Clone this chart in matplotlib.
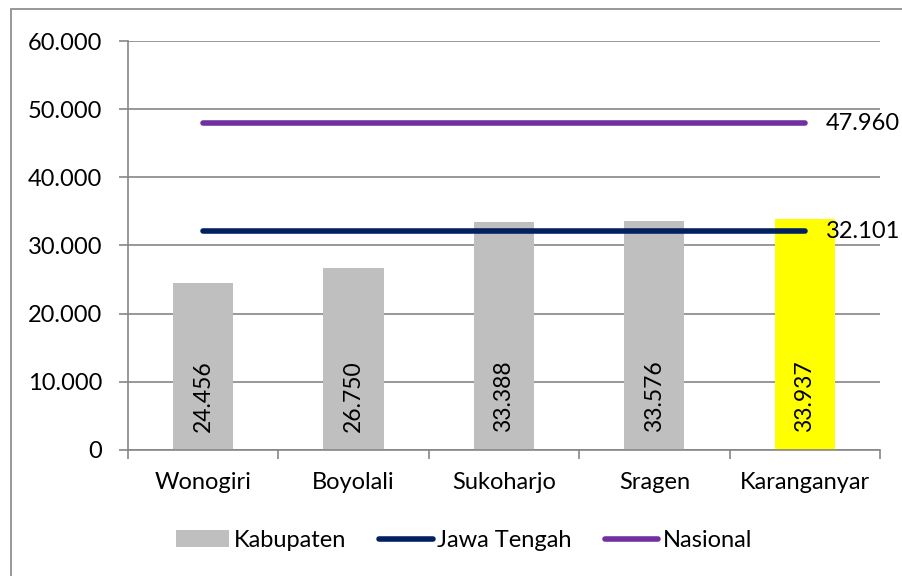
import matplotlib
matplotlib.use("Agg")
import matplotlib.pyplot as plt
from matplotlib.patches import Rectangle, Patch
from matplotlib.lines import Line2D
import numpy as np

plt.rcParams['font.family'] = ['Lato', 'DejaVu Sans']

categories = ["Wonogiri", "Boyolali", "Sukoharjo", "Sragen", "Karanganyar"]
kabupaten = [24456, 26750, 33388, 33576, 33937]
jawa_tengah = 32101
nasional = 47960
bar_colors = ["#bfbfbf", "#bfbfbf", "#bfbfbf", "#bfbfbf", "#ffff00"]
yticks = [0, 10000, 20000, 30000, 40000, 50000, 60000]

def fmt(v):
    return f"{v:,.0f}".replace(",", ".")

FS = 17

fig = plt.figure(figsize=(9.03, 5.76), dpi=100)
ax = fig.add_axes([0.1417, 0.2188, 0.8328, 0.71])

x = np.arange(len(categories))
ax.bar(x, kabupaten, width=0.4, color=bar_colors, zorder=2)
ax.plot([x[0], x[-1]], [jawa_tengah]*2, color="#002060", lw=4, solid_capstyle="round", zorder=3)
ax.plot([x[0], x[-1]], [nasional]*2, color="#7030a0", lw=4, solid_capstyle="round", zorder=3)

for xi, v in zip(x, kabupaten):
    ax.text(xi, 2600, fmt(v), rotation=90, ha="center", va="bottom", fontsize=16.5, color="black", zorder=4)

ax.text(x[-1] + 0.14, nasional, fmt(nasional), ha="left", va="center", fontsize=FS, zorder=4)
ax.text(x[-1] + 0.14, jawa_tengah, fmt(jawa_tengah), ha="left", va="center", fontsize=FS, zorder=4)

ax.set_xlim(-0.5, len(categories) - 0.5)
ax.set_ylim(0, 60000)
ax.set_yticks(yticks)
ax.set_yticklabels([fmt(t) for t in yticks], fontsize=FS)
ax.set_xticks(x)
ax.set_xticklabels(categories, fontsize=FS)
ax.tick_params(axis="x", length=0, pad=16)
ax.set_xticks(np.arange(-0.5, len(categories), 1.0), minor=True)
ax.tick_params(axis="x", which="minor", length=6.5, color="#868686", width=1.2)
ax.tick_params(axis="y", length=6.5, color="#868686", width=1.2, pad=12)
ax.grid(axis="y", color="#868686", lw=1.2, zorder=1)
for s in ["top", "right"]:
    ax.spines[s].set_visible(False)
for s in ["left", "bottom"]:
    ax.spines[s].set_color("#868686")
    ax.spines[s].set_linewidth(1.2)

handles = [Patch(facecolor="#bfbfbf", edgecolor="none"),
           Line2D([], [], color="#002060", lw=4, solid_capstyle="round"),
           Line2D([], [], color="#7030a0", lw=4, solid_capstyle="round")]
fig.legend(handles, ["Kabupaten", "Jawa Tengah", "Nasional"], loc="center",
           bbox_to_anchor=(0.514, 0.062), ncol=3, frameon=False, fontsize=FS,
           handlelength=2.25, handletextpad=0.2, columnspacing=1.4)

fig.patches.append(Rectangle((0.012, -0.01), 1.2, 0.994, transform=fig.transFigure,
                             fill=False, edgecolor="#868686", lw=1.2))

fig.savefig("out.png", dpi=100)
